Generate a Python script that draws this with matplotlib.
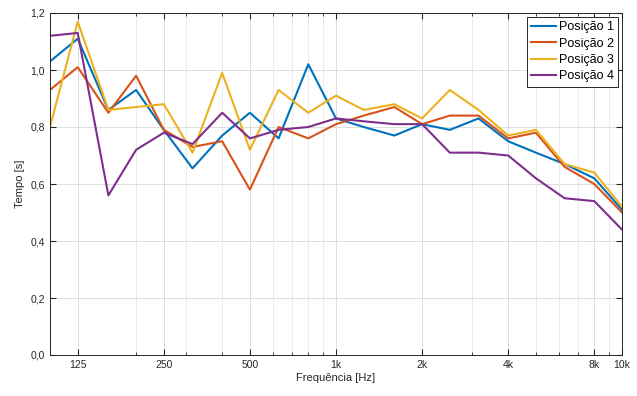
import numpy as np
import matplotlib.pyplot as plt
import matplotlib.ticker as ticker

plt.rcParams['font.family'] = ['Liberation Sans', 'DejaVu Sans']

# bandas de terço de oitava
freqs = [100, 125, 160, 200, 250, 315, 400, 500, 630, 800, 1000, 1250,
         1600, 2000, 2500, 3150, 4000, 5000, 6300, 8000, 10000]

pos1 = [1.03, 1.11, 0.86, 0.93, 0.79, 0.655, 0.77, 0.85, 0.76, 1.02, 0.83,
        0.80, 0.77, 0.81, 0.79, 0.83, 0.75, 0.71, 0.67, 0.62, 0.51]
pos2 = [0.93, 1.01, 0.85, 0.98, 0.79, 0.73, 0.75, 0.58, 0.80, 0.76, 0.81,
        0.84, 0.87, 0.81, 0.84, 0.84, 0.76, 0.78, 0.66, 0.60, 0.50]
pos3 = [0.80, 1.17, 0.86, 0.87, 0.88, 0.71, 0.99, 0.72, 0.93, 0.85, 0.91,
        0.86, 0.88, 0.83, 0.93, 0.86, 0.77, 0.79, 0.67, 0.64, 0.52]
pos4 = [1.12, 1.13, 0.56, 0.72, 0.78, 0.74, 0.85, 0.76, 0.79, 0.80, 0.83,
        0.82, 0.81, 0.81, 0.71, 0.71, 0.70, 0.62, 0.55, 0.54, 0.44]

labels = ['Posição 1', 'Posição 2', 'Posição 3', 'Posição 4']
colors = ['#0072BD', '#D95319', '#EDB120', '#7E2F8E']

xticks = [125, 250, 500, 1000, 2000, 4000, 8000, 10000]
xticklabels = ['125', '250', '500', '1k', '2k', '4k', '8k', '10k']
yticks = [0, 0.2, 0.4, 0.6, 0.8, 1.0, 1.2]

fig = plt.figure(figsize=(6.37, 3.96), dpi=100)
ax = fig.add_axes([50/637, 1 - 355/396, 572/637, 342/396])

for serie, lab, c in zip([pos1, pos2, pos3, pos4], labels, colors):
    ax.plot(freqs, serie, color=c, linewidth=1.5, label=lab)

ax.set_xscale('log')
ax.set_xlim(100, 10000)
ax.set_ylim(0, 1.2)
ax.set_xticks(xticks)
ax.set_xticklabels(xticklabels)
ax.xaxis.set_minor_locator(ticker.LogLocator(base=10, subs=np.arange(2, 10)))
ax.xaxis.set_minor_formatter(ticker.NullFormatter())
ax.set_yticks(yticks)
ax.set_yticklabels([f'{v:.1f}'.replace('.', ',') for v in yticks])

ax.grid(True, which='major', color='#dddddd', linewidth=0.7)
ax.grid(True, which='minor', axis='x', color='#e8e8e8', linewidth=0.6)
ax.set_axisbelow(True)

ax.tick_params(which='both', direction='in', top=True, right=True,
               labelsize=7.5, colors='#262626')
ax.tick_params(which='major', length=4)
ax.tick_params(which='minor', length=2)
for s in ax.spines.values():
    s.set_color('#262626')
    s.set_linewidth(0.7)

ax.set_xlabel('Frequência [Hz]', fontsize=8, color='#262626', labelpad=2)
ax.set_ylabel('Tempo [s]', fontsize=8, color='#262626', labelpad=4)

leg = ax.legend(loc='upper right', fontsize=9, handlelength=2.0,
                borderaxespad=0.3, labelspacing=0.35, fancybox=False,
                handletextpad=0.2, borderpad=0.35, framealpha=1)
leg.get_frame().set_edgecolor('#262626')
leg.get_frame().set_linewidth(0.7)

plt.savefig('out.png', dpi=100)
